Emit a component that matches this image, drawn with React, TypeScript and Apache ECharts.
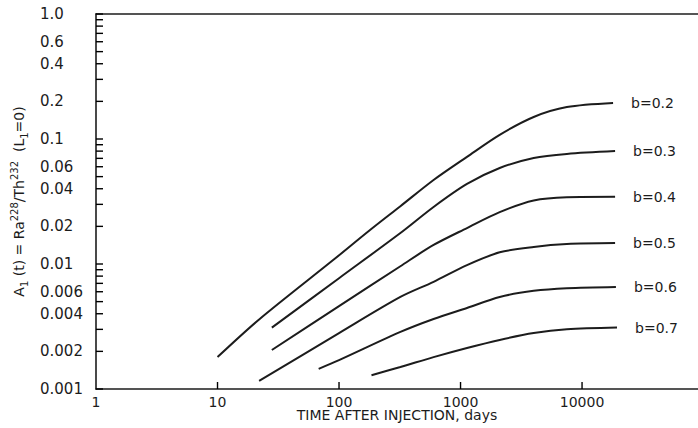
import React, { useEffect, useRef } from "react";
import * as echarts from "echarts";

// Tick values / labels
const yLabelValues = [0.001, 0.002, 0.004, 0.006, 0.01, 0.02, 0.04, 0.06, 0.1, 0.2, 0.4, 0.6, 1];
const yLabelTexts = ["0.001", "0.002", "0.004", "0.006", "0.01", "0.02", "0.04", "0.06", "0.1", "0.2", "0.4", "0.6", "1.0"];
const yTickMantissas = [1, 2, 3, 4, 5, 6, 7, 8, 9];
const yTickDecades = [0.001, 0.01, 0.1];
const xLabelTexts = ["1", "10", "100", "1000", "10000"];
const xTickValues = [10, 100, 1000, 10000];

// Curves: [time (days), A1(t)]
const curveNames = ["b=0.2", "b=0.3", "b=0.4", "b=0.5", "b=0.6", "b=0.7"];
const curveB02: [number, number][] = [
  [10, 0.0018], [22, 0.0036], [90, 0.0108], [180, 0.0187], [320, 0.029], [600, 0.047],
  [1130, 0.072], [2100, 0.108], [4000, 0.15], [7500, 0.18], [18000, 0.194],
];
const curveB03: [number, number][] = [
  [28, 0.0031], [100, 0.0077], [320, 0.0177], [600, 0.0286], [1130, 0.0437], [2100, 0.0586],
  [4000, 0.0705], [7500, 0.076], [18700, 0.08],
];
const curveB04: [number, number][] = [
  [28, 0.00205], [100, 0.0046], [320, 0.0096], [600, 0.0142], [1130, 0.0194], [2100, 0.026],
  [4000, 0.0322], [7500, 0.0342], [18700, 0.0345],
];
const curveB05: [number, number][] = [
  [22, 0.00116], [100, 0.0028], [320, 0.00545], [600, 0.0072], [1130, 0.0098], [2100, 0.0124],
  [4000, 0.0137], [7500, 0.01445], [18700, 0.0147],
];
const curveB06: [number, number][] = [
  [68, 0.00145], [100, 0.0017], [320, 0.00286], [600, 0.00363], [1130, 0.00445], [2100, 0.00545],
  [4000, 0.0061], [7500, 0.0064], [19000, 0.00655],
];
const curveB07: [number, number][] = [
  [185, 0.00129], [320, 0.0015], [600, 0.0018], [1130, 0.00213], [2100, 0.00247],
  [4000, 0.0028], [7500, 0.003], [19400, 0.0031],
];
const curves = [curveB02, curveB03, curveB04, curveB05, curveB06, curveB07];

const INK = "#1c1c1c";
const FONT = "DejaVu Sans";
const X_MIN = 1;
const X_MAX = 90000;
const Y_MIN = 0.001;
const Y_MAX = 1;

export default function App() {
  const ref = useRef<HTMLDivElement>(null);
  useEffect(() => {
    if (!ref.current) return;
    const chart = echarts.init(ref.current, undefined, { renderer: "svg" });
    const yTickValues: number[] = [];
    yTickDecades.forEach((d) => yTickMantissas.forEach((m) => yTickValues.push(m * d)));
    yTickValues.push(1);

    const yFormatter = (v: number) => {
      const i = yLabelValues.findIndex((t) => Math.abs(Math.log10(t) - Math.log10(v)) < 1e-6);
      return i >= 0 ? yLabelTexts[i] : "";
    };
    const xFormatter = (v: number) => {
      const i = Math.round(Math.log10(v));
      return xLabelTexts[i] ?? "";
    };

    // inside tick marks drawn at axis-scale positions
    const tickSeries = (data: number[][], dx: number, dy: number) => ({
      type: "custom",
      coordinateSystem: "cartesian2d",
      xAxisIndex: 0,
      yAxisIndex: 0,
      silent: true,
      clip: false,
      z: 5,
      data,
      renderItem: (_params: any, api: any) => {
        const p = api.coord([api.value(0), api.value(1)]);
        return {
          type: "line",
          shape: { x1: p[0], y1: p[1], x2: p[0] + dx, y2: p[1] + dy },
          style: { stroke: "#000", lineWidth: 1.4 },
        };
      },
    });

    chart.setOption({
      animation: false,
      backgroundColor: "#ffffff",
      textStyle: { fontFamily: FONT, color: INK },
      grid: {
        left: 96,
        right: 0,
        top: 14,
        bottom: 39,
        containLabel: false,
        outerBoundsMode: "none",
      },
      xAxis: [
        {
          type: "log",
          min: X_MIN,
          max: X_MAX,
          position: "bottom",
          name: "TIME AFTER INJECTION, days",
          nameLocation: "middle",
          nameGap: 18,
          nameMoveOverlap: false,
          nameTextStyle: { fontFamily: FONT, fontSize: 14, color: INK, lineHeight: 16 },
          axisLine: { show: true, onZero: false, lineStyle: { color: INK, width: 1.6 } },
          axisTick: { show: false },
          minorTick: { show: false },
          axisLabel: { margin: 6, fontFamily: FONT, fontSize: 14, color: INK, formatter: xFormatter },
          splitLine: { show: false },
        },
        {
          type: "log",
          min: X_MIN,
          max: X_MAX,
          position: "top",
          axisLine: { show: true, onZero: false, lineStyle: { color: INK, width: 1.6 } },
          axisTick: { show: false },
          axisLabel: { show: false },
          splitLine: { show: false },
        },
      ],
      yAxis: {
        type: "log",
        min: Y_MIN,
        max: Y_MAX,
        name: "A{sub|1} (t) = Ra{sup|228}/Th{sup|232}  (L{sub|1}=0)",
        nameLocation: "middle",
        nameGap: 67,
        nameMoveOverlap: false,
        nameTextStyle: {
          fontFamily: FONT,
          fontSize: 14,
          color: INK,
          lineHeight: 20,
          rich: {
            sup: { fontFamily: FONT, fontSize: 10, color: INK, lineHeight: 12, verticalAlign: "top" },
            sub: { fontFamily: FONT, fontSize: 10, color: INK, lineHeight: 12, verticalAlign: "bottom" },
          },
        },
        axisLine: { show: true, onZero: false, lineStyle: { color: INK, width: 1.6 } },
        axisTick: { show: false },
        axisLabel: {
          customValues: yLabelValues,
          align: "left",
          margin: 56,
          fontFamily: FONT,
          fontSize: 15,
          color: INK,
          formatter: yFormatter,
        },
        splitLine: { show: false },
      },
      series: [
        ...curves.map((data, i) => ({
          type: "line",
          name: curveNames[i],
          data,
          xAxisIndex: 0,
          yAxisIndex: 0,
          smooth: 0.3,
          symbol: "none",
          lineStyle: { color: INK, width: 2 },
          endLabel: {
            show: true,
            formatter: "{a}",
            distance: 18,
            fontFamily: FONT,
            fontSize: 14,
            color: INK,
          },
        })),
        tickSeries(yTickValues.map((v) => [X_MIN, v]), 7, 0),
        tickSeries(xTickValues.map((t) => [t, Y_MIN]), 0, -7),
      ],
    });
    return () => chart.dispose();
  }, []);
  return (
    <div
      ref={ref}
      style={{ position: "fixed", left: 0, top: 0, width: 698, height: 428, background: "#fff" }}
    />
  );
}
